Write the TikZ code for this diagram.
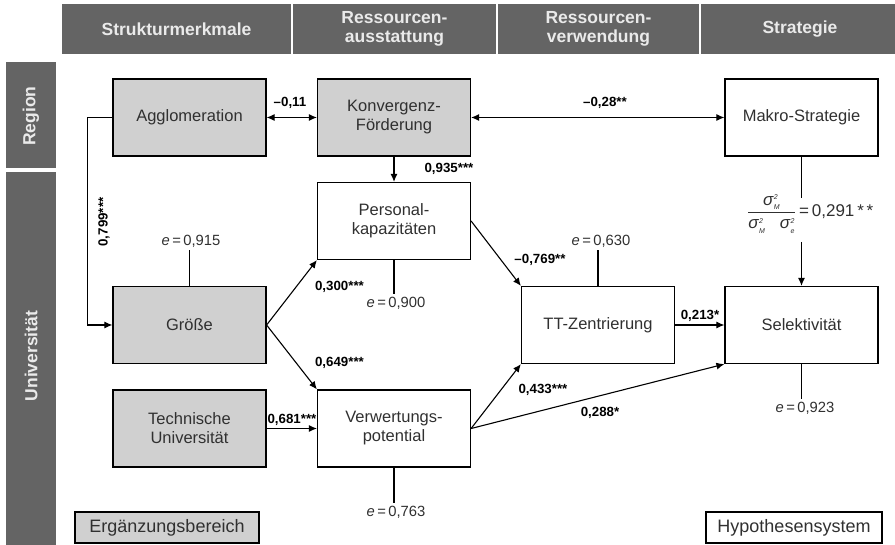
\documentclass[tikz,border=0pt]{standalone}
\usepackage{fontspec}
\setmainfont{Liberation Sans}
\usetikzlibrary{arrows.meta}
\definecolor{hdr}{HTML}{646464}
\definecolor{hdrtx}{HTML}{EAEAEA}
\definecolor{boxg}{HTML}{D0D0D0}
\definecolor{txt}{HTML}{303030}
\newcommand{\sig}[1]{\mbox{\textit{σ}}^{\mbox{\fontsize{7}{8}\selectfont\textit{2}}}_{\mbox{\fontsize{7}{8}\selectfont\textit{#1}}}}
\begin{document}
\begin{tikzpicture}[x=1pt,y=-1pt,
 hdrtext/.style={text=hdrtx, font=\fontsize{17.5}{18.5}\selectfont\bfseries, align=center, inner sep=0},
 var/.style={draw=black, line width=1.2pt, minimum width=153pt, minimum height=77pt, align=center, text=txt, font=\fontsize{16.5}{19}\selectfont, inner sep=0},
 exo/.style={var, fill=boxg},
 legend/.style={draw=black, line width=1.2pt, minimum height=31pt, text=txt, font=\fontsize{18}{20}\selectfont, inner sep=0},
 coef/.style={font=\fontsize{13.3}{15}\selectfont\bfseries, inner sep=1pt},
 err/.style={font=\fontsize{14.8}{16}\selectfont, text=txt, inner sep=1pt},
 arr/.style={-{Latex[length=8pt,width=7pt]}, line width=1.1pt},
 darr/.style={{Latex[length=8pt,width=7pt]}-{Latex[length=8pt,width=7pt]}, line width=1.1pt},
 eline/.style={line width=1.4pt, shorten >=2pt}
]
\useasboundingbox (0,0) rectangle (895,545);
% header
\fill[hdr] (62,4) rectangle (291,54);
\fill[hdr] (293,4) rectangle (496,54);
\fill[hdr] (498,4) rectangle (699,54);
\fill[hdr] (701,4) rectangle (895,54);
\node[hdrtext] (h1) at (176.5,29) {Strukturmerkmale};
\node[hdrtext] (h2) at (394.5,29) {Ressourcen-\\ausstattung};
\node[hdrtext] (h3) at (598.5,29) {Ressourcen-\\verwendung};
\node[hdrtext] (h4) at (800,29) {Strategie};
% side
\fill[hdr] (6,62) rectangle (56,168);
\fill[hdr] (6,172) rectangle (56,545);
\node[hdrtext, rotate=90] (sr) at (31,116) {Region};
\node[hdrtext, rotate=90] (su) at (31,356) {Universität};
% boxes
\node[exo] (agg) at (189.5,117.5) {Agglomeration};
\node[exo] (konv) at (394,117.5) {Konvergenz-\\Förderung};
\node[var] (makro) at (801.5,117.5) {Makro-Strategie};
\node[var] (pers) at (394,221) {Personal-\\kapazitäten};
\node[exo] (gr) at (189.5,325) {Größe};
\node[var] (tt) at (598,325) {TT-Zentrierung};
\node[var] (sel) at (801.5,325) {Selektivität};
\node[exo] (tu) at (189.5,428.5) {Technische\\Universität};
\node[var] (verw) at (394,428.5) {Verwertungs-\\potential};
% legend
\node[legend, fill=boxg, minimum width=184pt] (erg) at (167,527.5) {Ergänzungsbereich};
\node[legend, minimum width=176pt] (hyp) at (794,527.5) {Hypothesensystem};
% connectors
\draw[darr] (agg) -- (konv);
\draw[darr] (konv) -- (makro);
\draw[arr] (konv) -- (pers);
\draw[arr] (agg.west) -- ++(-25,0) |- (gr.west);
\draw[arr] (gr.east) -- (pers.south west);
\draw[arr] (gr.east) -- (verw.north west);
\draw[arr] (pers.east) -- (tt.north west);
\draw[arr] (verw.east) -- (tt.south west);
\draw[arr] (verw.east) -- (sel.south west);
\draw[arr] (tt) -- (sel);
\draw[arr] (tu) -- (verw);
\coordinate (c1) at (801.5,198);
\coordinate (c2) at (801.5,242);
\draw[line width=1.1pt] (makro.south) -- (c1);
\draw[arr] (c2) -- (sel.north);
% coefficient labels
\node[coef] (l1) at (290,103) {\textendash0,11};
\node[coef] (l2) at (605,103) {\textendash0,28**};
\node[coef] (l3) at (449,169) {0,935***};
\node[coef, rotate=90] (l4) at (104,222) {0,799***};
\node[coef] (l5) at (339.5,287) {0,300***};
\node[coef] (l6) at (339.5,363) {0,649***};
\node[coef] (l7) at (540,260) {\textendash0,769**};
\node[coef] (l8) at (700,316) {0,213*};
\node[coef] (l9) at (292,420) {0,681***};
\node[coef] (l10) at (543,390) {0,433***};
\node[coef] (l11) at (600,413) {0,288*};
% error terms
\node[err] (e1) at (191,241) {\textit{e}\,=\,0,915};
\node[err] (e2) at (396,303) {\textit{e}\,=\,0,900};
\node[err] (e3) at (601,241) {\textit{e}\,=\,0,630};
\node[err] (e4) at (805,408) {\textit{e}\,=\,0,923};
\node[err] (e5) at (396,512) {\textit{e}\,=\,0,763};
\draw[eline] (gr.north) -- (gr.north |- e1.south);
\draw[eline] (pers.south) -- (pers.south |- e2.north);
\draw[eline] (tt.north) -- (tt.north |- e3.south);
\draw[eline] (sel.south) -- (sel.south |- e4.north);
\draw[eline] (verw.south) -- (verw.south |- e5.north);
\node[font=\fontsize{17}{19}\selectfont, text=txt, inner sep=0, anchor=base west] (frac) at (747,217)
 {$\displaystyle\frac{\sig{M}}{\sig{M}\;\;\;\sig{e}}$\,=\,0,291\,*\,*};
\end{tikzpicture}
\end{document}
